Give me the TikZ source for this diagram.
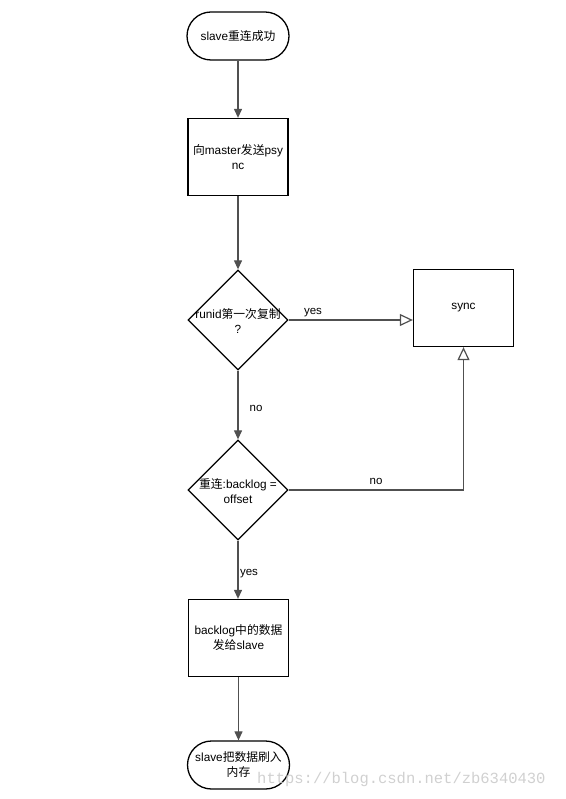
\documentclass[tikz,border=0pt]{standalone}
\usepackage{fontspec}
\setmainfont{Liberation Sans}
\newfontfamily\cjkfont{Noto Sans CJK SC}
\newfontfamily\wmfont{Liberation Mono}
\newcommand{\zh}[1]{{\cjkfont #1}}
\usetikzlibrary{shapes.geometric,arrows.meta}
\definecolor{lineclr}{RGB}{80,80,80}
\definecolor{wmclr}{RGB}{200,200,200}
\begin{document}
\begin{tikzpicture}[x=1pt,y=-1pt,
  txt/.style={font=\fontsize{11.8}{15}\selectfont, align=center, inner sep=0pt},
  term/.style={draw=black, line width=1.3pt, rounded corners=24pt, minimum width=102pt, minimum height=48pt, txt},
  proc/.style={draw=black, line width=1.3pt, minimum width=100pt, minimum height=77pt, txt},
  dec/.style={diamond, draw=black, line width=1.3pt, minimum width=100pt, minimum height=100pt, inner sep=0pt},
  conn/.style={draw=lineclr, line width=1.2pt},
  arr/.style={conn, -{Triangle[width=8pt,length=9pt]}},
  oarr/.style={conn, -{Triangle[open,width=12pt,length=13pt,fill=white]}},
  lbl/.style={font=\fontsize{11.5}{13}\selectfont, inner sep=0pt}
]
\useasboundingbox (0,0) rectangle (565,799);

\node[term] (start) at (238,36) {slave\zh{重连成功}};
\node[proc] (psync) at (238,157) {\zh{向}master\zh{发送}psy\\nc};
\node[dec] (d1) at (238,320) {};
\node[txt] (d1t) at (238,321) {runid\zh{第一次复制}\\?};
\node[proc] (sync) at (463.5,308) {sync};
\node[dec] (d2) at (238,490) {};
\node[txt] (d2t) at (238,491) {\zh{重连}:backlog =\\offset};
\node[proc] (send) at (238.5,638) {backlog\zh{中的数据}\\\zh{发给}slave};
\node[term] (fin) at (238.5,765) {slave\zh{把数据刷入}\\\zh{内存}};

\draw[arr] (start.south) -- (psync.north);
\draw[arr] (psync.south) -- (d1.north);
\draw[oarr] (d1.east) -- (d1.east -| sync.west);
\draw[arr] (d1.south) -- (d2.north);
\draw[oarr] (d2.east) -| (sync.south);
\draw[arr] (d2.south) -- (d2.south |- send.north);
\draw[arr] (send.south) -- (fin.north);

\node[lbl] (lyes1) at (313,313) {yes};
\node[lbl] (lno1) at (256,408) {no};
\node[lbl] (lno2) at (376,481) {no};
\node[lbl] (lyes2) at (249,574) {yes};

\node[font=\wmfont\fontsize{15.5}{16}\selectfont, text=wmclr, opacity=0.85, inner sep=0pt, anchor=west] (wm) at (257,779) {https://blog.csdn.net/zb6340430};
\end{tikzpicture}
\end{document}
